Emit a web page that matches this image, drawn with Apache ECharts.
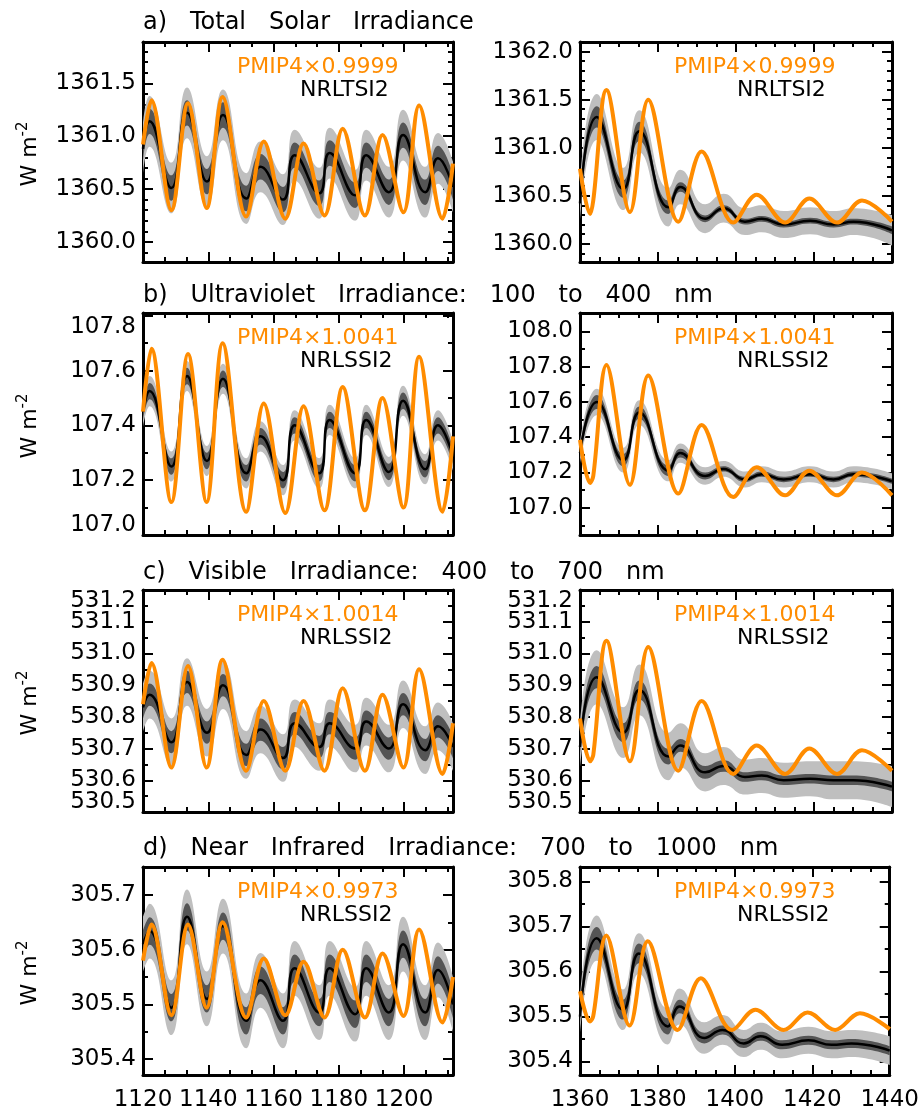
<!DOCTYPE html>
<html>
<head>
<meta charset="utf-8">
<script src="https://cdn.jsdelivr.net/npm/echarts@6/dist/echarts.min.js"></script>
<style>
  html, body { margin: 0; padding: 0; background: #fff; }
  #chart { width: 922px; height: 1114px; }
</style>
</head>
<body>
<div id="chart"></div>
<script>
// ---- x positions (years) ----
const leftPmipYears  = [1120, 1122.6, 1128.7, 1133.8, 1139.5, 1144.4, 1151.6, 1157, 1163.6, 1169.2, 1175.6, 1181.2, 1188, 1193.4, 1199.8, 1204.6, 1211.8, 1215];
const leftNrlYears   = [1120, 1122, 1128.7, 1133.5, 1139.6, 1144.5, 1151.7, 1156, 1162.9, 1166.5, 1174, 1177.2, 1185, 1188.4, 1195.3, 1199.7, 1206.5, 1210.4, 1215];
const rightPmipYears = [1360, 1362.6, 1363.4, 1366.8, 1372.8, 1377.5, 1385.2, 1391.2, 1399.3, 1405.3, 1412.6, 1418.8, 1425.9, 1432.3, 1440];
const rightNrlYears  = [1360, 1364.3, 1371.1, 1375.2, 1382.7, 1385.7, 1392.1, 1396.8, 1402.3, 1406.6, 1412.2, 1419, 1425, 1430.1, 1440];

// ---- a) total solar irradiance ----
const tsiLeftPmip  = [1360.92, 1361.34, 1360.30, 1361.31, 1360.32, 1361.37, 1360.24, 1360.95, 1360.22, 1360.93, 1360.25, 1361.07, 1360.25, 1361.01, 1360.28, 1361.29, 1360.22, 1360.74];
const tsiLeftNrl   = [1360.88, 1361.14, 1360.51, 1361.22, 1360.57, 1361.20, 1360.41, 1360.71, 1360.40, 1360.82, 1360.46, 1360.84, 1360.44, 1360.82, 1360.47, 1361.01, 1360.47, 1360.79, 1360.52];
const tsiLeftSd    = [0.12, 0.24];
const tsiRightPmip = [1360.78, 1360.31, 1360.45, 1361.60, 1360.33, 1361.50, 1360.23, 1360.96, 1360.22, 1360.51, 1360.22, 1360.47, 1360.22, 1360.45, 1360.23];
const tsiRightNrl  = [1360.42, 1361.32, 1360.57, 1361.17, 1360.38, 1360.59, 1360.26, 1360.37, 1360.23, 1360.26, 1360.20, 1360.24, 1360.20, 1360.23, 1360.14];
const tsiRightSd1  = [0.08, 0.11, 0.09, 0.10, 0.07, 0.05, 0.035, 0.03, 0.03, 0.03, 0.03, 0.03, 0.03, 0.03, 0.04];
const tsiRightSd2  = [0.20, 0.24, 0.22, 0.22, 0.20, 0.18, 0.15, 0.15, 0.14, 0.14, 0.14, 0.14, 0.14, 0.14, 0.16];

// ---- b) ultraviolet 100-400 nm ----
const uvLeftPmip  = [107.45, 107.68, 107.12, 107.66, 107.12, 107.70, 107.085, 107.48, 107.08, 107.47, 107.09, 107.54, 107.09, 107.50, 107.10, 107.65, 107.085, 107.36];
const uvLeftNrl   = [107.45, 107.525, 107.25, 107.58, 107.27, 107.57, 107.225, 107.36, 107.20, 107.40, 107.225, 107.42, 107.225, 107.42, 107.23, 107.49, 107.24, 107.40, 107.29];
const uvLeftSd    = [0.03, 0.055];
const uvRightPmip = [107.385, 107.14, 107.18, 107.81, 107.13, 107.75, 107.08, 107.47, 107.06, 107.23, 107.07, 107.21, 107.07, 107.20, 107.07];
const uvRightNrl  = [107.31, 107.60, 107.27, 107.54, 107.21, 107.31, 107.18, 107.22, 107.16, 107.19, 107.16, 107.19, 107.16, 107.19, 107.15];
const uvRightSd1  = [0.03, 0.04, 0.035, 0.035, 0.03, 0.025, 0.02, 0.015, 0.015, 0.015, 0.015, 0.015, 0.015, 0.015, 0.015];
const uvRightSd2  = [0.06, 0.075, 0.07, 0.07, 0.06, 0.055, 0.05, 0.045, 0.045, 0.045, 0.045, 0.045, 0.045, 0.045, 0.045];

// ---- c) visible 400-700 nm ----
const visLeftPmip  = [530.84, 530.97, 530.64, 530.96, 530.64, 530.98, 530.63, 530.85, 530.63, 530.85, 530.63, 530.89, 530.63, 530.87, 530.64, 530.95, 530.62, 530.78];
const visLeftNrl   = [530.83, 530.87, 530.72, 530.91, 530.75, 530.90, 530.68, 530.76, 530.67, 530.78, 530.705, 530.78, 530.70, 530.785, 530.70, 530.84, 530.695, 530.77, 530.705];
const visLeftSd    = [0.035, 0.075];
const visRightPmip = [530.795, 530.66, 530.68, 531.04, 530.66, 531.02, 530.63, 530.85, 530.62, 530.71, 530.62, 530.70, 530.62, 530.695, 530.63];
const visRightNrl  = [530.705, 530.925, 530.75, 530.885, 530.675, 530.71, 530.625, 530.645, 530.61, 530.615, 530.60, 530.605, 530.60, 530.60, 530.58];
const visRightSd1  = [0.03, 0.035, 0.03, 0.03, 0.025, 0.02, 0.02, 0.018, 0.015, 0.015, 0.015, 0.015, 0.015, 0.015, 0.015];
const visRightSd2  = [0.07, 0.085, 0.08, 0.08, 0.075, 0.07, 0.06, 0.06, 0.055, 0.055, 0.055, 0.055, 0.06, 0.06, 0.065];

// ---- d) near infrared 700-1000 nm ----
const nirLeftPmip  = [305.58, 305.646, 305.48, 305.646, 305.494, 305.65, 305.476, 305.584, 305.48, 305.578, 305.476, 305.60, 305.476, 305.593, 305.479, 305.637, 305.467, 305.55];
const nirLeftNrl   = [305.61, 305.634, 305.494, 305.66, 305.51, 305.643, 305.47, 305.544, 305.47, 305.566, 305.485, 305.566, 305.482, 305.566, 305.485, 305.61, 305.485, 305.563, 305.50];
const nirLeftSd    = [0.025, 0.05];
const nirRightPmip = [305.556, 305.489, 305.50, 305.68, 305.48, 305.667, 305.47, 305.585, 305.47, 305.515, 305.47, 305.509, 305.47, 305.507, 305.472];
const nirRightNrl  = [305.50, 305.674, 305.515, 305.64, 305.478, 305.522, 305.452, 305.47, 305.44, 305.456, 305.437, 305.447, 305.437, 305.44, 305.424];
const nirRightSd1  = [0.02, 0.025, 0.022, 0.022, 0.018, 0.015, 0.012, 0.01, 0.01, 0.01, 0.01, 0.01, 0.01, 0.01, 0.01];
const nirRightSd2  = [0.04, 0.05, 0.045, 0.045, 0.04, 0.04, 0.035, 0.033, 0.03, 0.03, 0.03, 0.03, 0.03, 0.03, 0.032];

// ---- tick labels ----
const leftXTicks  = [1120, 1140, 1160, 1180, 1200];
const rightXTicks = [1360, 1380, 1400, 1420, 1440];
const tsiLeftTicks  = [1360.0, 1360.5, 1361.0, 1361.5];
const tsiRightTicks = [1360.0, 1360.5, 1361.0, 1361.5, 1362.0];
const uvLeftTicks   = [107.0, 107.2, 107.4, 107.6, 107.8];
const uvRightTicks  = [107.0, 107.2, 107.4, 107.6, 107.8, 108.0];
const visTicks      = [530.5, 530.6, 530.7, 530.8, 530.9, 531.0, 531.1, 531.2];
const nirLeftTicks  = [305.4, 305.5, 305.6, 305.7];
const nirRightTicks = [305.4, 305.5, 305.6, 305.7, 305.8];

const titles = [
    'a)   Total   Solar   Irradiance',
    'b)   Ultraviolet   Irradiance:   100   to   400   nm',
    'c)   Visible   Irradiance:   400   to   700   nm',
    'd)   Near   Infrared   Irradiance:   700   to   1000   nm'
];
const pmipLabels = ['PMIP4\u00d70.9999', 'PMIP4\u00d71.0041', 'PMIP4\u00d71.0014', 'PMIP4\u00d70.9973'];
const nrlLabels  = ['NRLTSI2', 'NRLSSI2', 'NRLSSI2', 'NRLSSI2'];

const ORANGE = '#ff8c00';
const FONT = 'DejaVu Sans';

// layout of the 4x2 boxes
const rows = [
    { top: 42,  height: 220 },
    { top: 313, height: 222 },
    { top: 590, height: 222 },
    { top: 867, height: 208 }
];
const cols = [
    { left: 143, width: 310, xMin: 1120, xMax: 1215, xTicks: leftXTicks,  xMinor: 20 / 3 },
    { left: 580, width: 312, xMin: 1360, xMax: 1440, xTicks: rightXTicks, xMinor: 5 }
];

const panels = [
    { row: 0, col: 0, yMin: 1359.81, yMax: 1361.89, yTicks: tsiLeftTicks,  yMinor: 0.1,
      pmipX: leftPmipYears, pmip: tsiLeftPmip, nrlX: leftNrlYears, nrl: tsiLeftNrl, sd: tsiLeftSd },
    { row: 0, col: 1, yMin: 1359.81, yMax: 1362.10, yTicks: tsiRightTicks, yMinor: 0.1,
      pmipX: rightPmipYears, pmip: tsiRightPmip, nrlX: rightNrlYears, nrl: tsiRightNrl, sd1: tsiRightSd1, sd2: tsiRightSd2 },
    { row: 1, col: 0, yMin: 107.0, yMax: 107.81, yTicks: uvLeftTicks, yMinor: 0.1, edgeShift: true,
      pmipX: leftPmipYears, pmip: uvLeftPmip, nrlX: leftNrlYears, nrl: uvLeftNrl, sd: uvLeftSd },
    { row: 1, col: 1, yMin: 106.845, yMax: 108.105, yTicks: uvRightTicks, yMinor: 0.1,
      pmipX: rightPmipYears, pmip: uvRightPmip, nrlX: rightNrlYears, nrl: uvRightNrl, sd1: uvRightSd1, sd2: uvRightSd2 },
    { row: 2, col: 0, yMin: 530.5, yMax: 531.2, yTicks: visTicks, yMinor: 0.05, edgeShift: true,
      pmipX: leftPmipYears, pmip: visLeftPmip, nrlX: leftNrlYears, nrl: visLeftNrl, sd: visLeftSd },
    { row: 2, col: 1, yMin: 530.5, yMax: 531.2, yTicks: visTicks, yMinor: 0.05, edgeShift: true,
      pmipX: rightPmipYears, pmip: visRightPmip, nrlX: rightNrlYears, nrl: visRightNrl, sd1: visRightSd1, sd2: visRightSd2 },
    { row: 3, col: 0, yMin: 305.371, yMax: 305.751, yTicks: nirLeftTicks, yMinor: 0.05,
      pmipX: leftPmipYears, pmip: nirLeftPmip, nrlX: leftNrlYears, nrl: nirLeftNrl, sd: nirLeftSd },
    { row: 3, col: 1, yMin: 305.37, yMax: 305.832, yTicks: nirRightTicks, yMinor: 0.05,
      pmipX: rightPmipYears, pmip: nirRightPmip, nrlX: rightNrlYears, nrl: nirRightNrl, sd1: nirRightSd1, sd2: nirRightSd2 }
];

// minor tick positions between min and max
function minorValues(min, max, step) {
    const out = [];
    let v = Math.ceil(min / step - 1e-6) * step;
    while (v <= max + 1e-9) {
        out.push(+v.toFixed(5));
        v += step;
    }
    return out;
}

const grid = [], xAxis = [], yAxis = [], series = [], graphic = [];
const tickLine = { width: 2, color: '#000' };

panels.forEach((p, i) => {
    const r = rows[p.row], c = cols[p.col];
    grid.push({ left: c.left, top: r.top, width: c.width, height: r.height, containLabel: false });

    const bottomRow = p.row === 3;
    const lineStyle = { color: '#000', width: 3 };
    const labelStyle = { fontFamily: FONT, fontSize: 23, color: '#000' };

    const xBase = { gridIndex: i, type: 'value', min: c.xMin, max: c.xMax, splitLine: { show: false } };
    const xMinorVals = minorValues(c.xMin, c.xMax, c.xMinor);
    xAxis.push(
        Object.assign({}, xBase, {
            position: 'bottom',
            axisLine: { show: true, onZero: false, lineStyle },
            axisTick: { show: true, inside: true, length: 10, lineStyle: tickLine, customValues: c.xTicks },
            axisLabel: Object.assign({
                show: bottomRow, customValues: c.xTicks, margin: 14, formatter: v => String(v),
                showMinLabel: true, showMaxLabel: true
            }, labelStyle)
        }),
        Object.assign({}, xBase, {
            position: 'top',
            axisLine: { show: true, onZero: false, lineStyle },
            axisTick: { show: true, inside: true, length: 10, lineStyle: tickLine, customValues: c.xTicks },
            axisLabel: { show: false }
        }),
        Object.assign({}, xBase, {
            position: 'bottom',
            axisLine: { show: false, onZero: false },
            axisTick: { show: true, inside: true, length: 5, lineStyle: tickLine, customValues: xMinorVals },
            axisLabel: { show: false }
        }),
        Object.assign({}, xBase, {
            position: 'top',
            axisLine: { show: false, onZero: false },
            axisTick: { show: true, inside: true, length: 5, lineStyle: tickLine, customValues: xMinorVals },
            axisLabel: { show: false }
        })
    );

    // edge labels that sit on the box corners are nudged inward and carried by a second axis,
    // so the neighbouring labels are not dropped as overlaps
    const lastTick = p.yTicks[p.yTicks.length - 1];
    const firstTick = p.yTicks[0];
    const mainLabels = p.edgeShift ? p.yTicks.slice(1, -1) : p.yTicks;
    const edgeLabels = p.edgeShift ? [firstTick, lastTick] : [];
    const yBase = { gridIndex: i, type: 'value', min: p.yMin, max: p.yMax, scale: true, splitLine: { show: false } };
    const yMinorVals = minorValues(p.yMin, p.yMax, p.yMinor);
    yAxis.push(
        Object.assign({}, yBase, {
            position: 'left',
            axisLine: { show: true, onZero: false, lineStyle },
            axisTick: { show: true, inside: true, length: 10, lineStyle: tickLine, customValues: p.yTicks },
            axisLabel: Object.assign({
                customValues: mainLabels, margin: 7, showMinLabel: true, showMaxLabel: true,
                formatter: v => v.toFixed(1)
            }, labelStyle)
        }),
        Object.assign({}, yBase, {
            position: 'right',
            axisLine: { show: true, onZero: false, lineStyle },
            axisTick: { show: true, inside: true, length: 10, lineStyle: tickLine, customValues: p.yTicks },
            axisLabel: { show: false }
        }),
        Object.assign({}, yBase, {
            position: 'left',
            axisLine: { show: false, onZero: false },
            axisTick: { show: true, inside: true, length: 5, lineStyle: tickLine, customValues: yMinorVals },
            axisLabel: Object.assign({
                show: p.edgeShift === true, customValues: edgeLabels, margin: 7,
                showMinLabel: true, showMaxLabel: true,
                formatter: v => (Math.abs(v - lastTick) < 1e-6 ? '{dn|' : '{up|') + v.toFixed(1) + '}',
                rich: {
                    dn: Object.assign({ padding: [22, 0, 0, 0] }, labelStyle),
                    up: Object.assign({ padding: [0, 0, 20, 0] }, labelStyle)
                }
            }, labelStyle)
        }),
        Object.assign({}, yBase, {
            position: 'right',
            axisLine: { show: false, onZero: false },
            axisTick: { show: true, inside: true, length: 5, lineStyle: tickLine, customValues: yMinorVals },
            axisLabel: { show: false }
        })
    );

    // uncertainty half-widths (1 and 2 sigma)
    const sd1 = p.sd1 || p.nrl.map(() => p.sd[0]);
    const sd2 = p.sd2 || p.nrl.map(() => p.sd[1]);
    const ax = { xAxisIndex: 4 * i, yAxisIndex: 4 * i };
    const hidden = { width: 0, opacity: 0 };
    const common = Object.assign({ type: 'line', showSymbol: false, symbol: 'none', smooth: 0.5, silent: true }, ax);
    // band rows are [value, year] so that the stacked dimension is the y value
    const band = { encode: { x: 1, y: 0 } };

    series.push(
        Object.assign({}, common, band, {
            stack: 'outer' + i, lineStyle: hidden,
            data: p.nrlX.map((x, k) => [p.nrl[k] - sd2[k], x])
        }),
        Object.assign({}, common, band, {
            stack: 'outer' + i, lineStyle: hidden, areaStyle: { color: '#bfbfbf', opacity: 1 },
            data: p.nrlX.map((x, k) => [2 * sd2[k], x])
        }),
        Object.assign({}, common, band, {
            stack: 'inner' + i, lineStyle: hidden,
            data: p.nrlX.map((x, k) => [p.nrl[k] - sd1[k], x])
        }),
        Object.assign({}, common, band, {
            stack: 'inner' + i, lineStyle: hidden, areaStyle: { color: '#555555', opacity: 1 },
            data: p.nrlX.map((x, k) => [2 * sd1[k], x])
        }),
        Object.assign({}, common, {
            name: nrlLabels[p.row], lineStyle: { color: '#000', width: 2.5 },
            data: p.nrlX.map((x, k) => [x, p.nrl[k]])
        }),
        Object.assign({}, common, {
            name: 'PMIP4', smooth: 0.35, lineStyle: { color: ORANGE, width: 4 },
            data: p.pmipX.map((x, k) => [x, p.pmip[k]])
        })
    );

    // in-box labels
    graphic.push(
        { type: 'text', x: c.left + 94, y: r.top + 25, silent: true,
          style: { text: pmipLabels[p.row], fill: ORANGE, font: '22px "DejaVu Sans"', textVerticalAlign: 'middle', verticalAlign: 'middle' } },
        { type: 'text', x: c.left + 157, y: r.top + 48, silent: true,
          style: { text: nrlLabels[p.row], fill: '#000', font: '22px "DejaVu Sans"', textVerticalAlign: 'middle', verticalAlign: 'middle' } }
    );
});

// row titles and y-axis names
const titleY = [23, 296, 573, 849];
rows.forEach((r, k) => {
    graphic.push({
        type: 'text', x: 143, y: titleY[k], silent: true,
        style: { text: titles[k], fill: '#000', font: '24px "DejaVu Sans"', textVerticalAlign: 'middle', verticalAlign: 'middle' }
    });
    graphic.push({
        type: 'text', x: 30, y: r.top + r.height / 2 + 2, rotation: Math.PI / 2, silent: true,
        style: {
            text: '{m|W m}{s|-2}',
            textAlign: 'center', align: 'center', textVerticalAlign: 'middle', verticalAlign: 'middle',
            rich: {
                m: { fontFamily: FONT, fontSize: 22, fill: '#000', color: '#000' },
                s: { fontFamily: FONT, fontSize: 15, fill: '#000', color: '#000', padding: [0, 0, 14, 0] }
            }
        }
    });
});

const chart = echarts.init(document.getElementById('chart'));
chart.setOption({
    animation: false,
    backgroundColor: '#fff',
    tooltip: { show: false },
    grid,
    xAxis,
    yAxis,
    series,
    graphic
});
</script>
</body>
</html>
